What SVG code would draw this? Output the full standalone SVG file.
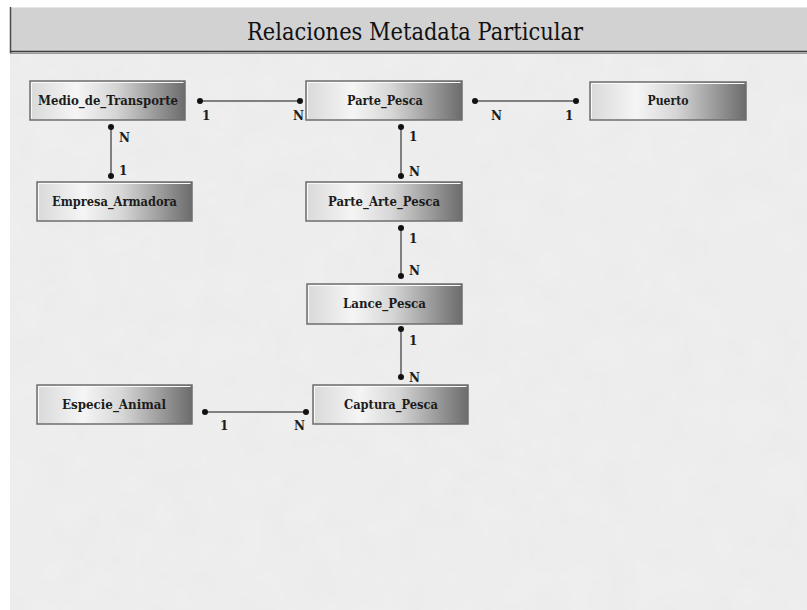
<svg xmlns="http://www.w3.org/2000/svg" width="807" height="610" viewBox="0 0 807 610">
  <style>
    .serif { font-family: "DejaVu Serif", "Liberation Serif", serif; }
    .box { fill: url(#boxFill); stroke: #6e6e6e; stroke-width: 1.5; }
    .bevel { fill: none; stroke: #fafafa; stroke-width: 1; }
    .name { font-family: "DejaVu Serif", "Liberation Serif", serif; font-weight: bold; font-size: 12px; fill: #1c1c1c; text-anchor: middle; }
    .card { font-family: "DejaVu Serif", "Liberation Serif", serif; font-weight: bold; font-size: 12px; fill: #1c1c1c; }
    .link { stroke: #5a5a5a; stroke-width: 1.5; fill: none; }
    .end { fill: #111; }
  </style>
  <defs>
    <linearGradient id="boxFill" x1="0" y1="0" x2="1" y2="0">
      <stop offset="0" stop-color="#d9d9d9"/>
      <stop offset="0.3" stop-color="#f5f5f5"/>
      <stop offset="0.55" stop-color="#d6d6d6"/>
      <stop offset="1" stop-color="#6c6c6c"/>
    </linearGradient>
    <filter id="paper" x="0" y="0" width="100%" height="100%">
      <feTurbulence type="fractalNoise" baseFrequency="0.03" numOctaves="3" seed="7" result="n"/>
      <feColorMatrix in="n" type="matrix" values="0 0 0 0 0.80  0 0 0 0 0.80  0 0 0 0 0.80  0 0 0 0.5 0"/>
    </filter>
  </defs>

  <!-- page -->
  <rect x="0" y="0" width="807" height="610" fill="#ffffff"/>
  <rect x="10" y="53" width="797" height="557" fill="#efefef"/>
  <rect x="10" y="53" width="797" height="557" filter="url(#paper)"/>

  <!-- title bar -->
  <g id="title">
    <rect x="10" y="7" width="797" height="46" fill="#d2d2d2"/>
    <line x1="10" y1="7.5" x2="807" y2="7.5" stroke="#e6e6e6" stroke-width="1"/>
    <line x1="10.5" y1="7" x2="10.5" y2="53" stroke="#4a4a4a" stroke-width="1.5"/>
    <line x1="10" y1="51.5" x2="807" y2="51.5" stroke="#3c3c3c" stroke-width="1.5"/>
    <line x1="10" y1="53.5" x2="807" y2="53.5" stroke="#9a9a9a" stroke-width="1"/>
    <text class="serif" x="415" y="40" font-size="25" fill="#111" text-anchor="middle" textLength="336" lengthAdjust="spacingAndGlyphs">Relaciones Metadata Particular</text>
  </g>

  <!-- connectors -->
  <g id="connectors">
    <line class="link" x1="200" y1="101" x2="300" y2="101"/>
    <circle class="end" cx="200" cy="101" r="3"/><circle class="end" cx="300" cy="101" r="3"/>
    <text class="card" x="202" y="120">1</text><text class="card" x="293" y="120">N</text>

    <line class="link" x1="111" y1="127" x2="111" y2="176"/>
    <circle class="end" cx="111" cy="127" r="3"/><circle class="end" cx="111" cy="176" r="3"/>
    <text class="card" x="119" y="142">N</text><text class="card" x="119" y="175">1</text>

    <line class="link" x1="475" y1="101" x2="576" y2="101"/>
    <circle class="end" cx="475" cy="101" r="3"/><circle class="end" cx="576" cy="101" r="3"/>
    <text class="card" x="491" y="120">N</text><text class="card" x="565" y="120">1</text>

    <line class="link" x1="401" y1="127" x2="401" y2="176"/>
    <circle class="end" cx="401" cy="127" r="3"/><circle class="end" cx="401" cy="176" r="3"/>
    <text class="card" x="409" y="141">1</text><text class="card" x="409" y="176">N</text>

    <line class="link" x1="401" y1="228" x2="401" y2="276"/>
    <circle class="end" cx="401" cy="228" r="3"/><circle class="end" cx="401" cy="276" r="3"/>
    <text class="card" x="409" y="243">1</text><text class="card" x="409" y="275">N</text>

    <line class="link" x1="401" y1="329" x2="401" y2="377"/>
    <circle class="end" cx="401" cy="329" r="3"/><circle class="end" cx="401" cy="377" r="3"/>
    <text class="card" x="409" y="345">1</text><text class="card" x="409" y="382">N</text>

    <line class="link" x1="205" y1="412" x2="306" y2="412"/>
    <circle class="end" cx="205" cy="412" r="3"/><circle class="end" cx="306" cy="412" r="3"/>
    <text class="card" x="220" y="430">1</text><text class="card" x="294" y="430">N</text>
  </g>

  <!-- entities -->
  <g id="medio-de-transporte">
    <rect class="box" x="30" y="81" width="155" height="39"/>
    <polyline class="bevel" points="31.5,118.5 31.5,82.5 183.5,82.5"/>
    <text class="name" x="108" y="105" textLength="140" lengthAdjust="spacingAndGlyphs">Medio_de_Transporte</text>
  </g>
  <g id="parte-pesca">
    <rect class="box" x="306" y="81" width="156" height="39"/>
    <polyline class="bevel" points="307.5,118.5 307.5,82.5 460.5,82.5"/>
    <text class="name" x="385" y="105" textLength="76" lengthAdjust="spacingAndGlyphs">Parte_Pesca</text>
  </g>
  <g id="puerto">
    <rect class="box" x="590" y="82" width="156" height="38"/>
    <polyline class="bevel" points="591.5,118.5 591.5,83.5 744.5,83.5"/>
    <text class="name" x="668" y="105" textLength="41" lengthAdjust="spacingAndGlyphs">Puerto</text>
  </g>
  <g id="empresa-armadora">
    <rect class="box" x="37" y="182" width="155" height="39"/>
    <polyline class="bevel" points="38.5,219.5 38.5,183.5 190.5,183.5"/>
    <text class="name" x="114.5" y="206" textLength="125" lengthAdjust="spacingAndGlyphs">Empresa_Armadora</text>
  </g>
  <g id="parte-arte-pesca">
    <rect class="box" x="306" y="182" width="156" height="39"/>
    <polyline class="bevel" points="307.5,219.5 307.5,183.5 460.5,183.5"/>
    <text class="name" x="384" y="206" textLength="112" lengthAdjust="spacingAndGlyphs">Parte_Arte_Pesca</text>
  </g>
  <g id="lance-pesca">
    <rect class="box" x="307" y="284" width="155" height="40"/>
    <polyline class="bevel" points="308.5,322.5 308.5,285.5 460.5,285.5"/>
    <text class="name" x="384.5" y="308" textLength="83" lengthAdjust="spacingAndGlyphs">Lance_Pesca</text>
  </g>
  <g id="especie-animal">
    <rect class="box" x="37" y="385" width="155" height="39"/>
    <polyline class="bevel" points="38.5,422.5 38.5,386.5 190.5,386.5"/>
    <text class="name" x="114" y="409" textLength="104" lengthAdjust="spacingAndGlyphs">Especie_Animal</text>
  </g>
  <g id="captura-pesca">
    <rect class="box" x="313" y="385" width="155" height="39"/>
    <polyline class="bevel" points="314.5,422.5 314.5,386.5 466.5,386.5"/>
    <text class="name" x="391" y="409" textLength="94" lengthAdjust="spacingAndGlyphs">Captura_Pesca</text>
  </g>
</svg>
